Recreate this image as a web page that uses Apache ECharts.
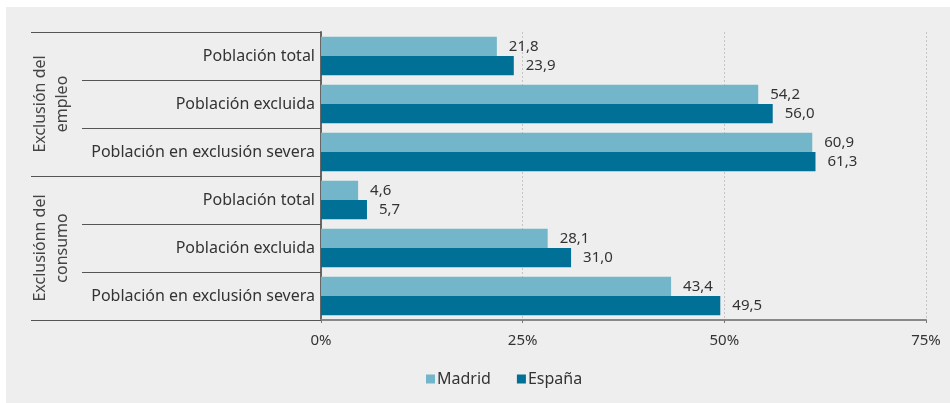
<!DOCTYPE html>
<html>
<head>
<meta charset="utf-8">
<script src="https://cdn.jsdelivr.net/npm/echarts@6/dist/echarts.min.js"></script>
<style>
html,body{margin:0;padding:0;background:#ffffff;}
#wrap{position:absolute;left:6px;top:7px;width:944px;height:396px;background:#eeeeee;}
#chart{position:absolute;left:-6px;top:-7px;width:950px;height:403px;}
</style>
</head>
<body>
<div id="wrap"><div id="chart"></div></div>
<script>
const categories = ['Población total','Población excluida','Población en exclusión severa','Población total','Población excluida','Población en exclusión severa'];
const groups = ['Exclusión del\nempleo','Exclusiónn del\nconsumo'];
const madrid = [21.8, 54.2, 60.9, 4.6, 28.1, 43.4];
const espana = [23.9, 56.0, 61.3, 5.7, 31.0, 49.5];
const xTicks = [0, 25, 50, 75];

const FONT = 'Noto Sans';
const chart = echarts.init(document.getElementById('chart'));
const fmt = v => v.value.toFixed(1).replace('.', ',');
chart.setOption({
  backgroundColor: 'transparent',
  textStyle: {fontFamily: FONT},
  animation: false,
  grid: {left: 321, right: 24, top: 32, bottom: 83},
  legend: {
    data: ['Madrid','España'],
    top: 366, left: 421,
    itemWidth: 9, itemHeight: 9, itemGap: 26,
    icon: 'rect',
    textStyle: {fontFamily: FONT, fontSize: 16, color: '#333', padding: [0,0,0,-3]}
  },
  xAxis: {
    type: 'value', min: xTicks[0], max: xTicks[xTicks.length-1], interval: 25,
    axisLine: {show: true, lineStyle: {color: '#888', width: 2}},
    axisTick: {show: true, length: 3, lineStyle: {color: '#777'}},
    axisLabel: {formatter: '{value}%', fontSize: 15, color: '#333', margin: 13, fontFamily: FONT},
    splitLine: {show: true, lineStyle: {color: '#c4c4c4', type: [2,2], width: 1}}
  },
  yAxis: [{
    type: 'category', data: categories, inverse: true,
    axisLine: {show: true, lineStyle: {color: '#666', width: 2}},
    axisTick: {show: true, length: 239, lineStyle: {color: '#555', width: 1}},
    axisLabel: {fontSize: 16, color: '#333', margin: 6, fontFamily: FONT}
  },{
    type: 'category', data: groups, inverse: true, position: 'left',
    axisLine: {show: false},
    axisTick: {show: true, length: 290, lineStyle: {color: '#555', width: 1}},
    axisLabel: {fontSize: 16, color: '#444', rotate: 90, margin: 248, lineHeight: 22, fontFamily: FONT}
  }],
  series: [{
    name: 'Madrid', type: 'bar', data: madrid, yAxisIndex: 0,
    barGap: '0%', barCategoryGap: '20%',
    itemStyle: {color: '#74b6c9'},
    label: {show: true, position: 'right', distance: 12, formatter: fmt, fontSize: 15, color: '#333', fontFamily: FONT}
  },{
    name: 'España', type: 'bar', data: espana, yAxisIndex: 0,
    barGap: '0%', barCategoryGap: '20%',
    itemStyle: {color: '#007096'},
    label: {show: true, position: 'right', distance: 12, formatter: fmt, fontSize: 15, color: '#333', fontFamily: FONT}
  }]
});
</script>
</body>
</html>
